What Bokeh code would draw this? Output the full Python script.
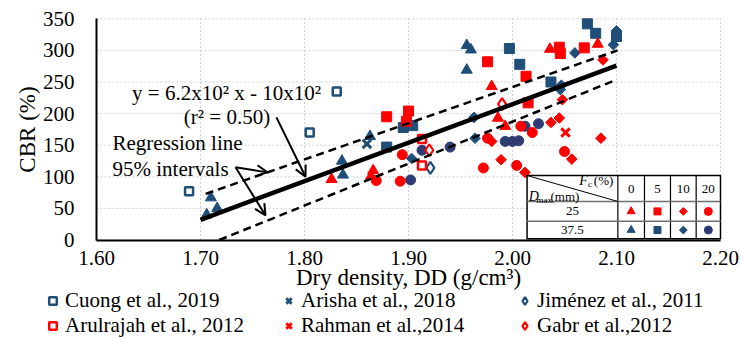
import numpy as np
from bokeh.plotting import figure
from bokeh.models import (Range1d, FixedTicker, Label, Arrow, OpenHead, Legend, LegendItem)
from bokeh.embed import file_html
from bokeh.resources import INLINE

FONT = "Liberation Serif"
BLUE = "#1F4E79"
NAVY = "#2F3C74"
RED = "#FF0000"
GRID = "#CFCFCF"

# ---------------- data ----------------
x_ticks = [1.6, 1.7, 1.8, 1.9, 2.0, 2.1, 2.2]
x_tick_labels = ["1.60", "1.70", "1.80", "1.90", "2.00", "2.10", "2.20"]
y_ticks = [0, 50, 100, 150, 200, 250, 300, 350]

# literature data (open markers / crosses)
cuong_dd = [1.689, 1.805, 1.831]
cuong_cbr = [77, 170, 235]
arisha_dd = [1.860]
arisha_cbr = [152]
jimenez_dd = [1.921]
jimenez_cbr = [114]
arulrajah_dd = [1.913, 1.913]
arulrajah_cbr = [160, 118]
rahman_dd = [2.051]
rahman_cbr = [170]
gabr_dd = [1.920, 1.990]
gabr_cbr = [142, 215]

# this study: Dmax = 25 mm (red)
d25_f0_dd = [1.826, 1.866, 1.864, 1.980, 1.986, 1.993, 2.036, 2.082]
d25_f0_cbr = [96, 110, 101, 243, 193, 180, 302, 310]
d25_f5_dd = [1.879, 1.900, 1.898, 1.976, 2.013, 2.015, 2.045, 2.046, 2.069]
d25_f5_cbr = [195, 204, 188, 282, 259, 217, 305, 295, 304]
d25_f10_dd = [1.980, 1.989, 2.012, 2.037, 2.045, 2.048, 2.057, 2.085, 2.087]
d25_f10_cbr = [156, 127, 107, 186, 193, 222, 128, 161, 285]
d25_f20_dd = [1.869, 1.892, 1.894, 1.972, 1.976, 2.004, 2.008, 2.019, 2.050]
d25_f20_cbr = [94, 93, 135, 114, 161, 118, 180, 170, 140]

# this study: Dmax = 37.5 mm (blue)
d375_f0_dd = [1.706, 1.710, 1.716, 1.836, 1.837, 1.863, 1.956, 1.960, 1.956]
d375_f0_cbr = [40, 67, 50, 125, 103, 164, 308, 301, 269]
d375_f5_dd = [1.879, 1.895, 1.904, 1.997, 2.007, 2.037, 2.072, 2.080, 2.100]
d375_f5_cbr = [147, 178, 181, 303, 278, 250, 342, 327, 322]
d375_f10_dd = [1.903, 1.963, 1.964, 2.047, 2.046, 2.060, 2.097, 2.100]
d375_f10_cbr = [129, 194, 161, 245, 238, 296, 309, 331]
d375_f20_dd = [1.902, 1.913, 1.940, 1.993, 2.000, 2.006, 2.012, 2.025]
d375_f20_cbr = [95, 142, 147, 156, 156, 157, 180, 184]

# regression line and 95% intervals
reg_dd = [1.700, 2.100]
reg_cbr = [32, 276]
up_dd = [1.705, 2.101]
up_cbr = [73, 300]
lo_dd = [1.718, 2.096]
lo_cbr = [0, 251]

# ---------------- layout geometry (pixels) ----------------
W, H = 741, 338
AX_LEFT, AX_RIGHT = 96, 720      # pixel of x = 1.60 and x = 2.20
AX_TOP, AX_BOTTOM = 18.3, 239.5  # pixel of y = 350 and y = 0
x0, x1 = x_ticks[0], x_ticks[-1]
y0, y1 = y_ticks[0], y_ticks[-1]
kx = (AX_RIGHT - AX_LEFT) / (x1 - x0)
ky = (AX_BOTTOM - AX_TOP) / (y1 - y0)
xr = Range1d(x0 - AX_LEFT / kx, x1 + (W - AX_RIGHT) / kx)
yr = Range1d(y0 - (H - AX_BOTTOM) / ky, y1 + AX_TOP / ky)

# ---------------- figure ----------------
p = figure(width=W, height=H, output_backend="svg", toolbar_location=None,
           x_range=xr, y_range=yr,
           min_border_left=0, min_border_right=0, min_border_top=0, min_border_bottom=0)
p.outline_line_color = None
p.background_fill_color = "white"
p.xgrid.visible = False
p.ygrid.visible = False

for ax in (p.xaxis[0], p.yaxis[0]):
    ax.axis_line_color = "black"
    ax.axis_line_width = 2
    ax.major_tick_line_color = None
    ax.minor_tick_line_color = None
    ax.major_label_text_font = FONT
    ax.major_label_text_font_size = "21px"
    ax.major_label_text_color = "black"
    ax.axis_label_text_font = FONT
    ax.axis_label_text_font_size = "23px"
    ax.axis_label_text_font_style = "normal"
    ax.axis_label_text_color = "black"

p.xaxis.ticker = FixedTicker(ticks=x_ticks)
p.xaxis.major_label_overrides = {t: l for t, l in zip(x_ticks, x_tick_labels)}
p.yaxis.ticker = FixedTicker(ticks=y_ticks)
p.xaxis.fixed_location = y0
p.xaxis.bounds = (x0, x1)
p.yaxis.fixed_location = x0
p.yaxis.bounds = (y0, y1)
p.xaxis.axis_label = "Dry density, DD (g/cm³)"
p.yaxis.axis_label = "CBR (%)"
p.xaxis.major_label_standoff = 5
p.xaxis.axis_label_standoff = -4
p.yaxis.major_label_standoff = 16
p.yaxis.axis_label_standoff = 0

# dotted grid limited to the axes' extent
p.segment(x0=x_ticks, y0=[y0] * len(x_ticks), x1=x_ticks, y1=[y1] * len(x_ticks),
          line_color=GRID, line_dash="2 2", line_width=1)
p.segment(x0=[x0] * len(y_ticks), y0=y_ticks, x1=[x1] * len(y_ticks), y1=y_ticks,
          line_color=GRID, line_dash="2 2", line_width=1)

# ---------------- data marks ----------------
sq45 = np.pi / 4
p.scatter(d375_f0_dd, d375_f0_cbr, marker="triangle", size=11, color=BLUE)
p.scatter(d375_f5_dd, d375_f5_cbr, marker="square", size=10, color=BLUE)
p.scatter(d375_f10_dd, d375_f10_cbr, marker="square", angle=sq45, size=7.5, color=BLUE)
p.scatter(d375_f20_dd, d375_f20_cbr, marker="circle", size=10, color=NAVY)
p.scatter(d25_f0_dd, d25_f0_cbr, marker="triangle", size=11, color=RED)
p.scatter(d25_f5_dd, d25_f5_cbr, marker="square", size=10, color=RED)
p.scatter(d25_f10_dd, d25_f10_cbr, marker="square", angle=sq45, size=7.5, color=RED)
p.scatter(d25_f20_dd, d25_f20_cbr, marker="circle", size=10, color=RED)

# literature series: (label, x, y, marker, size, line_width, color)
lit = [
    ("Cuong et al., 2019", cuong_dd, cuong_cbr, "square", 8, 2.5, BLUE),
    ("Arisha et al., 2018", arisha_dd, arisha_cbr, "x", 12, 3, BLUE),
    ("Jiménez et al., 2011", jimenez_dd, jimenez_cbr, "diamond", 12, 2.2, BLUE),
    ("Arulrajah et al., 2012", arulrajah_dd, arulrajah_cbr, "square", 8, 2.5, RED),
    ("Rahman et al.,2014", rahman_dd, rahman_cbr, "x", 12, 3, RED),
    ("Gabr et al.,2012", gabr_dd, gabr_cbr, "diamond", 12, 2.2, RED),
]
items = []
for name, xs, ys, m, s, lw, c in lit:
    r = p.scatter(xs, ys, marker=m, size=s, line_width=lw,
                  line_color=c, fill_color="white")
    items.append(LegendItem(label=name, renderers=[r]))

# regression line and interval lines
p.line(reg_dd, reg_cbr, line_width=4.5, color="black")
p.line(up_dd, up_cbr, line_width=2.5, color="black", line_dash="8 5")
p.line(lo_dd, lo_cbr, line_width=2.5, color="black", line_dash="8 5")

# ---------------- annotations ----------------
def lab(x, y, text, size="21px", align="center", style="normal", baseline="middle"):
    p.add_layout(Label(x=x, y=y, text=text, text_font=FONT, text_font_size=size,
                       text_align=align, text_baseline=baseline, text_font_style=style,
                       text_color="black"))

lab(1.725, 232, "y = 6.2x10² x - 10x10²")
lab(1.7255, 194, "(r² = 0.50)")
lab(1.6154, 153, "Regression line", align="left")
lab(1.6154, 113, "95% intervals", align="left")

for (xs, ys, xe, ye) in [(1.773, 194, 1.801, 100), (1.7337, 115, 1.7644, 107),
                         (1.7337, 115, 1.7625, 39)]:
    p.add_layout(Arrow(end=OpenHead(size=11, line_width=2, line_color="black"),
                       x_start=xs, y_start=ys, x_end=xe, y_end=ye,
                       line_width=2, line_color="black"))

# ---------------- inset key table ----------------
tb_left, tb_right, tb_top, tb_bottom = 2.014, 2.2, 102, 2
tb_head, tb_mid = 61, 29.5
col_edges = [2.014, 2.1013, 2.1269, 2.1519, 2.1766, 2.2]
fc_labels = ["0", "5", "10", "20"]
dmax_labels = ["25", "37.5"]

p.quad(left=[tb_left], right=[tb_right], top=[tb_top], bottom=[tb_bottom],
       fill_color="white", line_color="black", line_width=1.5)
p.segment(x0=col_edges[1:-1], y0=[tb_bottom] * 4, x1=col_edges[1:-1], y1=[tb_top] * 4,
          line_color="black", line_width=1.2)
p.segment(x0=[tb_left, tb_left], y0=[tb_head, tb_mid], x1=[tb_right, tb_right],
          y1=[tb_head, tb_mid], line_color="#707070", line_width=1.5)
p.segment(x0=[tb_left], y0=[tb_top], x1=[col_edges[1]], y1=[tb_head],
          line_color="black", line_width=1)

col_c = [(a + b) / 2 for a, b in zip(col_edges[1:-1], col_edges[2:])]
row_c = [(tb_head + tb_mid) / 2, (tb_mid + tb_bottom) / 2]
head_c = (tb_top + tb_head) / 2 - 1.5

for cx, t in zip(col_c, fc_labels):
    lab(cx, head_c, t, size="13px")
for ry, t in zip(row_c, dmax_labels):
    lab((col_edges[0] + col_edges[1]) / 2, ry, t, size="13px")

lab(2.0724, 94, "F", size="14px", align="right", style="italic")
lab(2.0726, 88, "c", size="9px", align="left")
lab(2.0782, 94, "(%)", size="13px", align="left")
lab(2.0157, 69, "D", size="14px", align="left", style="italic")
lab(2.0231, 63, "max", size="9px", align="left")
lab(2.0365, 69, "(mm)", size="13px", align="left")

mk = ["triangle", "square", "square", "circle"]
ang = [0, 0, sq45, 0]
sz = [8, 7, 5.5, 8]
for i in range(4):
    p.scatter([col_c[i]], [row_c[0]], marker=mk[i], angle=ang[i], size=sz[i], color=RED)
    p.scatter([col_c[i]], [row_c[1]], marker=mk[i], angle=ang[i], size=sz[i],
              color=NAVY if mk[i] == "circle" else BLUE)

# ---------------- bottom legend ----------------
legend = Legend(items=items, location=(43, 0), orientation="horizontal", ncols=3)
legend.label_text_font = FONT
legend.label_text_font_size = "21px"
legend.label_text_color = "black"
legend.glyph_width = 19
legend.glyph_height = 19
legend.label_standoff = 3
legend.label_width = 214
legend.label_height = 24
legend.spacing = 0
legend.padding = 0
legend.margin = 0
legend.border_line_color = None
legend.background_fill_alpha = 0
p.add_layout(legend)

open("out.html", "w").write(file_html(p, INLINE))
